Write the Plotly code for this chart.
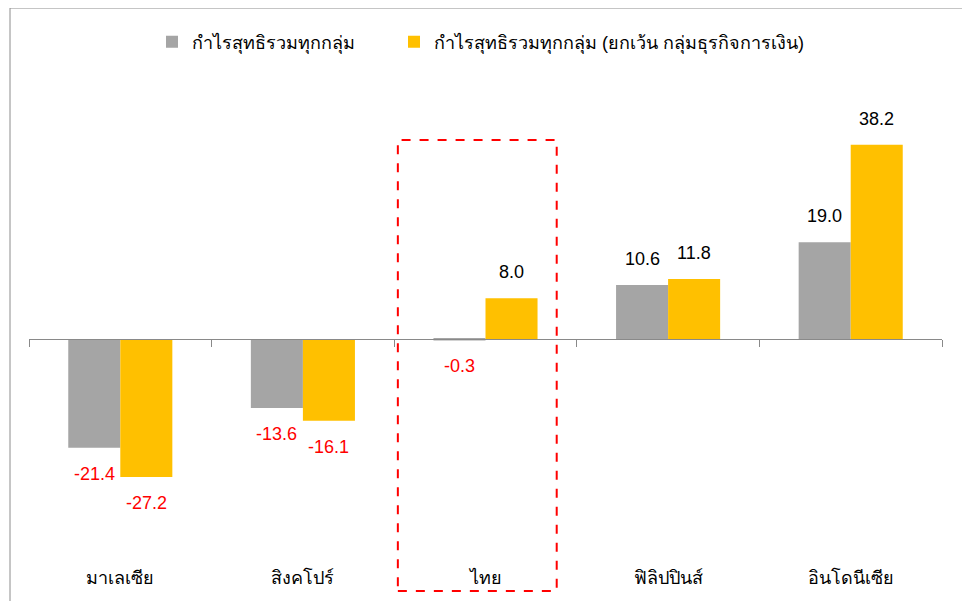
import plotly.graph_objects as go

categories = ["มาเลเซีย", "สิงคโปร์", "ไทย", "ฟิลิปปินส์", "อินโดนีเซีย"]
series_names = ["กำไรสุทธิรวมทุกกลุ่ม", "กำไรสุทธิรวมทุกกลุ่ม (ยกเว้น กลุ่มธุรกิจการเงิน)"]
profit_all = [-21.4, -13.6, -0.3, 10.6, 19.0]
profit_ex_fin = [-27.2, -16.1, 8.0, 11.8, 38.2]
colors = ["#A5A5A5", "#FFC000"]
highlight = "ไทย"

FONT = "Liberation Sans, Noto Sans, sans-serif"
OFF = 8  # page body margin
W, H = 970 - OFF, 601 - OFF
L, R, T, B = 29 - OFF, 28, 95 - OFF, 36
plot_h = H - T - B
ymin, ymax = -44.5, 48.0
zero_frac = -ymin / (ymax - ymin)

legend_ids = ["legend", "legend2"]
fig = go.Figure()
for name, vals, col, lg in zip(series_names, [profit_all, profit_ex_fin], colors, legend_ids):
    fig.add_trace(go.Bar(x=categories, y=vals, name=name, legend=lg,
                         marker=dict(color=col, line=dict(width=0)), hoverinfo="x+y"))

# value labels
annotations = []
for k, vals in enumerate([profit_all, profit_ex_fin]):
    xs = -26 if k == 0 else 26
    for c, v in zip(categories, vals):
        annotations.append(dict(x=c, y=v, xref="x", yref="y", text=f"{v:.1f}", showarrow=False,
                                xshift=xs, yshift=26 if v >= 0 else -26,
                                font=dict(size=18, color="#000000" if v >= 0 else "#FF0000", family=FONT)))

# convert page pixel coordinates to paper fractions
def py(p):
    return (H - B - (p - OFF)) / plot_h

def px(p):
    return ((p - OFF) - L) / (W - L - R)

idx = categories.index(highlight)
shapes = [
    # chart border
    dict(type="rect", xref="paper", yref="paper", x0=px(10), x1=px(966), y0=py(615), y1=py(8),
         line=dict(color="#8C8C8C", width=1), fillcolor="rgba(0,0,0,0)", layer="below"),
    # highlight dashed box
    dict(type="rect", xref="x", yref="paper", x0=idx - 0.48, x1=idx + 0.39, y0=py(591), y1=py(140),
         line=dict(color="#FF0000", width=2, dash="dash"), fillcolor="rgba(0,0,0,0)"),
]

legend_common = dict(orientation="h", xanchor="left", y=py(42), yanchor="middle",
                     font=dict(size=18, family=FONT), itemsizing="constant", itemwidth=30)

fig.update_layout(
    width=W, height=H,
    margin=dict(l=L, r=R, t=T, b=B),
    paper_bgcolor="white", plot_bgcolor="white",
    barmode="group", bargap=0.43, bargroupgap=0,
    font=dict(family=FONT, size=18, color="#000000"),
    showlegend=True,
    legend=dict(x=px(166 - 14), **legend_common),
    legend2=dict(x=px(408 - 14), **legend_common),
    xaxis=dict(type="category", categoryarray=categories, range=[-0.5, len(categories) - 0.5],
               anchor="free", position=zero_frac, showline=True, linecolor="#898989", linewidth=1,
               ticks="outside", ticklen=7, tickcolor="#898989", tickson="boundaries",
               showticklabels=False, showgrid=False, zeroline=False),
    xaxis2=dict(overlaying="x", anchor="y", side="bottom", range=[-0.5, len(categories) - 0.5],
                tickvals=list(range(len(categories))), ticktext=categories, showline=False,
                ticks="", showgrid=False, zeroline=False, tickfont=dict(size=18, family=FONT)),
    yaxis=dict(range=[ymin, ymax], visible=False, showgrid=False, zeroline=False),
    annotations=annotations,
    shapes=shapes,
)
# invisible trace to activate xaxis2
fig.add_trace(go.Scatter(x=[0], y=[0], xaxis="x2", yaxis="y", mode="markers",
                         marker=dict(opacity=0), showlegend=False, hoverinfo="skip"))

fig.write_html("out.html")
